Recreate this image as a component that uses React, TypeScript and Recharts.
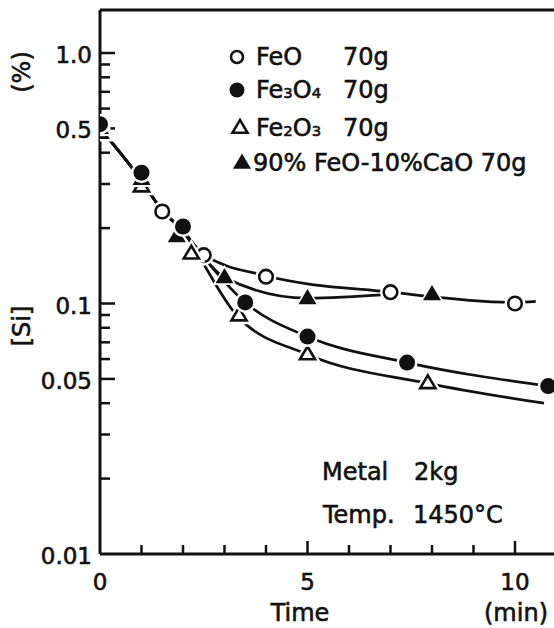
import { ComposedChart, Line, ReferenceDot, Scatter, XAxis, YAxis } from 'recharts'

// measured points (time in min, [Si] in %)
const feoPoints = [
  { x: 0, y: 0.5 },
  { x: 1.5, y: 0.233 },
  { x: 2.5, y: 0.156 },
  { x: 4, y: 0.128 },
  { x: 7, y: 0.111 },
  { x: 10, y: 0.1 },
]
const fe3o4Points = [
  { x: 0, y: 0.52 },
  { x: 1, y: 0.333 },
  { x: 2, y: 0.203 },
  { x: 3.5, y: 0.101 },
  { x: 5, y: 0.0738 },
  { x: 7.4, y: 0.0581 },
  { x: 10.8, y: 0.0468 },
]
const fe2o3Points = [
  { x: 0, y: 0.48 },
  { x: 1, y: 0.293 },
  { x: 2.2, y: 0.158 },
  { x: 3.35, y: 0.0895 },
  { x: 5, y: 0.0626 },
  { x: 7.9, y: 0.048 },
]
const caoPoints = [
  { x: 0, y: 0.5 },
  { x: 1, y: 0.313 },
  { x: 1.85, y: 0.185 },
  { x: 3, y: 0.127 },
  { x: 5, y: 0.1047 },
  { x: 8, y: 0.1086 },
]

// hand-drawn curves
const trunk = [
  { x: 0, y: 0.5 },
  { x: 1, y: 0.31 },
  { x: 1.5, y: 0.235 },
  { x: 2, y: 0.195 },
]
const feoCurve = [...trunk, { x: 2.5, y: 0.157 }, { x: 4, y: 0.129 }, { x: 7, y: 0.111 }, { x: 10, y: 0.101 }, { x: 10.5, y: 0.102 }]
const caoCurve = [...trunk, { x: 2.35, y: 0.164 }, { x: 3, y: 0.127 }, { x: 5, y: 0.105 }, { x: 7, y: 0.109 }]
const fe3o4Curve = [...trunk, { x: 2.35, y: 0.164 }, { x: 3.5, y: 0.101 }, { x: 5, y: 0.0738 }, { x: 7.4, y: 0.0581 }, { x: 10.94, y: 0.0465 }]
const fe2o3Curve = [...trunk, { x: 2.3, y: 0.163 }, { x: 3.3, y: 0.0895 }, { x: 5, y: 0.0626 }, { x: 7.9, y: 0.048 }, { x: 10.7, y: 0.04 }]

const xTicks = [0, 1, 2, 3, 4, 5, 6, 7, 8, 9, 10]
const xLabels: Record<number, string> = { 0: '0', 5: '5', 10: '10' }
const yTicks = [0.01, 0.02, 0.03, 0.04, 0.05, 0.06, 0.07, 0.08, 0.09, 0.1, 0.2, 0.3, 0.4, 0.5, 0.6, 0.7, 0.8, 0.9, 1]
const yLabels: Record<string, string> = { '1': '1.0', '0.5': '0.5', '0.1': '0.1', '0.05': '0.05', '0.01': '0.01' }

const X_MIN = 0
const Y_MIN = 0.01

const FONT = '"DejaVu Sans", sans-serif'
const INK = '#111'

const XTick = (props: any) => {
  const { x, y, payload } = props
  const label = xLabels[payload.value]
  if (label === undefined) return <g />
  return (
    <text x={x} y={y + 28} textAnchor="middle" dominantBaseline="central" fontSize={23} fontFamily={FONT} fill={INK} stroke={INK} strokeWidth={0.6}>
      {label}
    </text>
  )
}

const YTick = (props: any) => {
  const { x, y, payload } = props
  const label = yLabels[String(payload.value)]
  if (!label) return <g />
  return (
    <text x={x - 8} y={y + 2} textAnchor="end" dominantBaseline="central" fontSize={23} fontFamily={FONT} fill={INK} stroke={INK} strokeWidth={0.6}>
      {label}
    </text>
  )
}

// inward tick marks, drawn at positions given by the chart scales
const yTickShape = (major: boolean) => (props: any) => (
  <rect x={props.cx} y={props.cy - 1.25} width={major ? 15 : 10} height={2.5} fill={INK} />
)
const xTickShape = (major: boolean) => (props: any) => (
  <rect x={props.cx - 1.25} y={props.cy - (major ? 13 : 9)} width={2.5} height={major ? 13 : 9} fill={INK} />
)

const OpenCircle = ({ cx, cy }: any) => (
  <g>
    <circle cx={cx} cy={cy} r={10.5} fill="#fff" />
    <circle cx={cx} cy={cy} r={6.8} fill="#fff" stroke={INK} strokeWidth={2.6} />
  </g>
)
const FilledCircle = ({ cx, cy }: any) => (
  <g>
    <circle cx={cx} cy={cy} r={10.5} fill="#fff" />
    <circle cx={cx} cy={cy} r={8} fill={INK} />
  </g>
)
const tri = (cx: number, cy: number, s: number) =>
  `${cx},${cy - s} ${cx + s * 0.95},${cy + s * 0.6} ${cx - s * 0.95},${cy + s * 0.6}`
const OpenTriangle = ({ cx, cy }: any) => (
  <g>
    <polygon points={tri(cx, cy, 12)} fill="#fff" stroke="#fff" strokeWidth={3} />
    <polygon points={tri(cx, cy, 8)} fill="#fff" stroke={INK} strokeWidth={2.6} strokeLinejoin="miter" />
  </g>
)
const FilledTriangle = ({ cx, cy }: any) => (
  <g>
    <polygon points={tri(cx, cy, 12.5)} fill="#fff" />
    <polygon points={tri(cx, cy, 9.5)} fill={INK} />
  </g>
)

const textStyle: React.CSSProperties = {
  position: 'absolute',
  fontFamily: FONT,
  fontSize: 24,
  color: INK,
  lineHeight: 1,
  whiteSpace: 'nowrap',
  transform: 'translateY(-50%)',
  WebkitTextStroke: `0.6px ${INK}`,
}

const sub: React.CSSProperties = { fontSize: '0.62em' }

export default function App() {
  return (
    <div style={{ position: 'absolute', left: 0, top: 0, width: 554, height: 628, background: '#fff', overflow: 'hidden' }}>
      <ComposedChart width={554} height={628} margin={{ top: 9, right: 0, bottom: 34, left: 40 }}>
        <XAxis
          dataKey="x"
          type="number"
          domain={[X_MIN, 10.94]}
          ticks={xTicks}
          interval={0}
          height={40}
          tickSize={0}
          tickMargin={0}
          tickLine={false}
          axisLine={{ stroke: INK, strokeWidth: 3 }}
          tick={XTick}
          allowDataOverflow
        />
        <XAxis
          xAxisId="top"
          orientation="top"
          dataKey="x"
          type="number"
          domain={[X_MIN, 10.94]}
          height={1}
          tick={false}
          tickLine={false}
          axisLine={{ stroke: INK, strokeWidth: 3 }}
        />
        <YAxis
          type="number"
          scale="log"
          domain={[Y_MIN, 1.485]}
          ticks={yTicks}
          interval={0}
          width={60}
          tickSize={0}
          tickMargin={0}
          tickLine={false}
          axisLine={{ stroke: INK, strokeWidth: 3 }}
          tick={YTick}
          allowDataOverflow
        />
        {yTicks
          .filter((v) => v !== Y_MIN)
          .map((v) => (
            <ReferenceDot key={`y${v}`} x={X_MIN} y={v} ifOverflow="visible" shape={yTickShape(yLabels[String(v)] !== undefined)} />
          ))}
        {xTicks
          .filter((v) => v !== X_MIN)
          .map((v) => (
            <ReferenceDot key={`x${v}`} x={v} y={Y_MIN} ifOverflow="visible" shape={xTickShape(xLabels[v] !== undefined)} />
          ))}
        <Line data={feoCurve} dataKey="y" type="monotone" stroke={INK} strokeWidth={2.7} dot={false} isAnimationActive={false} />
        <Line data={caoCurve} dataKey="y" type="monotone" stroke={INK} strokeWidth={2.7} dot={false} isAnimationActive={false} />
        <Line data={fe3o4Curve} dataKey="y" type="monotone" stroke={INK} strokeWidth={2.7} dot={false} isAnimationActive={false} />
        <Line data={fe2o3Curve} dataKey="y" type="monotone" stroke={INK} strokeWidth={2.7} dot={false} isAnimationActive={false} />
        <Scatter data={feoPoints} dataKey="y" shape={OpenCircle} isAnimationActive={false} />
        <Scatter data={fe2o3Points} dataKey="y" shape={OpenTriangle} isAnimationActive={false} />
        <Scatter data={caoPoints} dataKey="y" shape={FilledTriangle} isAnimationActive={false} />
        <Scatter data={fe3o4Points} dataKey="y" shape={FilledCircle} isAnimationActive={false} />
      </ComposedChart>

      {/* axis titles */}
      <div style={{ ...textStyle, left: 22, top: 72, transform: 'translate(-50%, -50%) rotate(-90deg)' }}>(%)</div>
      <div style={{ ...textStyle, left: 22, top: 326, transform: 'translate(-50%, -50%) rotate(-90deg)' }}>[Si]</div>
      <div style={{ ...textStyle, left: 300, top: 613, transform: 'translate(-50%, -50%)' }}>Time</div>
      <div style={{ ...textStyle, left: 516, top: 613, transform: 'translate(-50%, -50%)' }}>(min)</div>

      {/* legend */}
      <svg width={30} height={170} style={{ position: 'absolute', left: 222, top: 40 }}>
        <circle cx={15} cy={17} r={6} fill="#fff" stroke={INK} strokeWidth={2.5} />
        <circle cx={15} cy={50} r={7.5} fill={INK} />
        <polygon points={tri(18, 88, 8)} fill="#fff" stroke={INK} strokeWidth={2.5} />
        <polygon points={tri(20, 123, 9.5)} fill={INK} />
      </svg>
      <div style={{ ...textStyle, left: 256, top: 57 }}>FeO</div>
      <div style={{ ...textStyle, left: 343, top: 57 }}>70g</div>
      <div style={{ ...textStyle, left: 256, top: 90 }}>
        Fe<span style={sub}>3</span>O<span style={sub}>4</span>
      </div>
      <div style={{ ...textStyle, left: 343, top: 90 }}>70g</div>
      <div style={{ ...textStyle, left: 256, top: 128 }}>
        Fe<span style={sub}>2</span>O<span style={sub}>3</span>
      </div>
      <div style={{ ...textStyle, left: 343, top: 128 }}>70g</div>
      <div style={{ ...textStyle, left: 253, top: 163 }}>90% FeO-10%CaO 70g</div>

      {/* conditions */}
      <div style={{ ...textStyle, left: 322, top: 472 }}>Metal</div>
      <div style={{ ...textStyle, left: 414, top: 472 }}>2kg</div>
      <div style={{ ...textStyle, left: 323, top: 515 }}>Temp.</div>
      <div style={{ ...textStyle, left: 413, top: 515 }}>1450°C</div>
    </div>
  )
}
